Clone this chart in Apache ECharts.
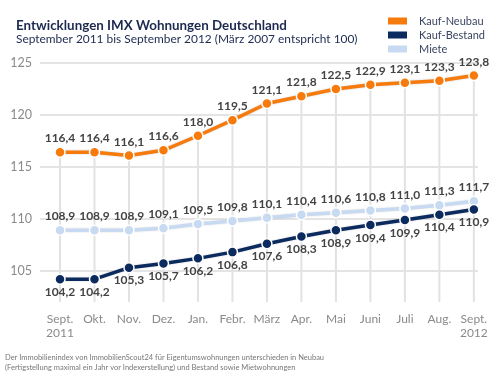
<!DOCTYPE html>
<html><head><meta charset="utf-8">
<script src="https://cdn.jsdelivr.net/npm/echarts@6/dist/echarts.min.js"></script>
<style>html,body{margin:0;padding:0;background:#fff}#c{width:500px;height:382px}</style>
</head><body><div id="c"></div>
<script>
var categories = ['Sept.\n2011','Okt.','Nov.','Dez.','Jan.','Febr.','März','Apr.','Mai','Juni','Juli','Aug.','Sept.\n2012'];
var kaufNeubau = [116.4,116.4,116.1,116.6,118.0,119.5,121.1,121.8,122.5,122.9,123.1,123.3,123.8];
var kaufBestand = [104.2,104.2,105.3,105.7,106.2,106.8,107.6,108.3,108.9,109.4,109.9,110.4,110.9];
var miete = [108.9,108.9,108.9,109.1,109.5,109.8,110.1,110.4,110.6,110.8,111.0,111.3,111.7];
var yTicks = [105,110,115,120,125];

function pairs(arr){return arr.map(function(v,i){return [i,v];});}
function fmt(p){return p.value[1].toFixed(1).replace('.',',');}
var FONT = 'Lato, "Open Sans", sans-serif';
var lbl = {show:true, formatter:fmt, color:'#444', fontSize:12, fontWeight:'bold', fontFamily:FONT};

var chart = echarts.init(document.getElementById('c'), null, {renderer:'canvas'});
chart.setOption({
  animation:false,
  textStyle:{fontFamily:FONT},
  title:[
    {text:'Entwicklungen IMX Wohnungen Deutschland', left:11, top:14,
     textStyle:{fontSize:13.4, fontWeight:'bold', color:'#1c2a50', fontFamily:FONT}},
    {text:'September 2011 bis September 2012 (März 2007 entspricht 100)', left:11, top:28,
     textStyle:{fontSize:11.9, fontWeight:'normal', color:'#1c2a50', fontFamily:FONT}},
    {text:'Der Immobilienindex von ImmobilienScout24 für Eigentumswohnungen unterschieden in Neubau\n(Fertigstellung maximal ein Jahr vor Indexerstellung) und Bestand sowie Mietwohnungen',
     left:0, top:347, textStyle:{fontSize:7.5, fontWeight:'normal', color:'#777', lineHeight:10.5, fontFamily:FONT}}
  ],
  legend:{
    orient:'vertical', left:388, top:14, padding:0, itemWidth:19, itemHeight:7, itemGap:0, height:60,
    icon:'rect', data:['Kauf-Neubau','Kauf-Bestand','Miete'],
    itemStyle:{borderWidth:0, shadowBlur:0},
    lineStyle:{width:0},
    textStyle:{color:'#3a4560', fontSize:11, lineHeight:14, padding:[0,0,0,7], fontFamily:FONT}
  },
  grid:{left:40, right:22, top:63, bottom:80},
  xAxis:{type:'value', min:-0.58, max:12.12,
    axisLine:{show:false}, axisTick:{show:false}, splitLine:{show:false},
    axisLabel:{customValues:[0,1,2,3,4,5,6,7,8,9,10,11,12], formatter:function(v){return categories[Math.round(v)];},
      color:'#8a8a8a', fontSize:12, lineHeight:14, margin:10, fontFamily:FONT}
  },
  yAxis:{type:'value', min:102, max:125,
    axisLine:{show:false},
    axisTick:{show:false, customValues:yTicks},
    axisLabel:{customValues:yTicks, color:'#8a8a8a', fontSize:12.5, margin:8, fontFamily:FONT},
    splitLine:{lineStyle:{color:'#e4e4e4', width:2}}
  },
  series:[
    {type:'bar', data:pairs(kaufNeubau), barWidth:2, itemStyle:{color:'#e2e2e2'}, z:1, silent:true, legendHoverLink:false},
    {name:'Kauf-Neubau', type:'line', data:pairs(kaufNeubau), color:'#f77a0c', z:5,
     lineStyle:{width:3.5, color:'#f77a0c', shadowColor:'rgba(0,0,0,0.2)', shadowBlur:2},
     symbol:'circle', symbolSize:10, itemStyle:{color:'#f77a0c', borderColor:'#fff', borderWidth:1.5},
     label:Object.assign({position:'top', distance:2}, lbl)},
    {name:'Kauf-Bestand', type:'line', data:pairs(kaufBestand), color:'#0b2a5e', z:4,
     lineStyle:{width:3.5, color:'#0b2a5e', shadowColor:'rgba(0,0,0,0.2)', shadowBlur:2},
     symbol:'circle', symbolSize:10, itemStyle:{color:'#0b2a5e', borderColor:'#fff', borderWidth:1.5},
     label:Object.assign({position:'bottom', distance:1}, lbl)},
    {name:'Miete', type:'line', data:pairs(miete), color:'#c7daf1', z:3,
     lineStyle:{width:3.5, color:'#c7daf1', shadowColor:'rgba(0,0,0,0.15)', shadowBlur:2},
     symbol:'circle', symbolSize:10, itemStyle:{color:'#c7daf1', borderColor:'#fff', borderWidth:1.5},
     label:Object.assign({position:'top', distance:2}, lbl)}
  ]
});
</script></body></html>
